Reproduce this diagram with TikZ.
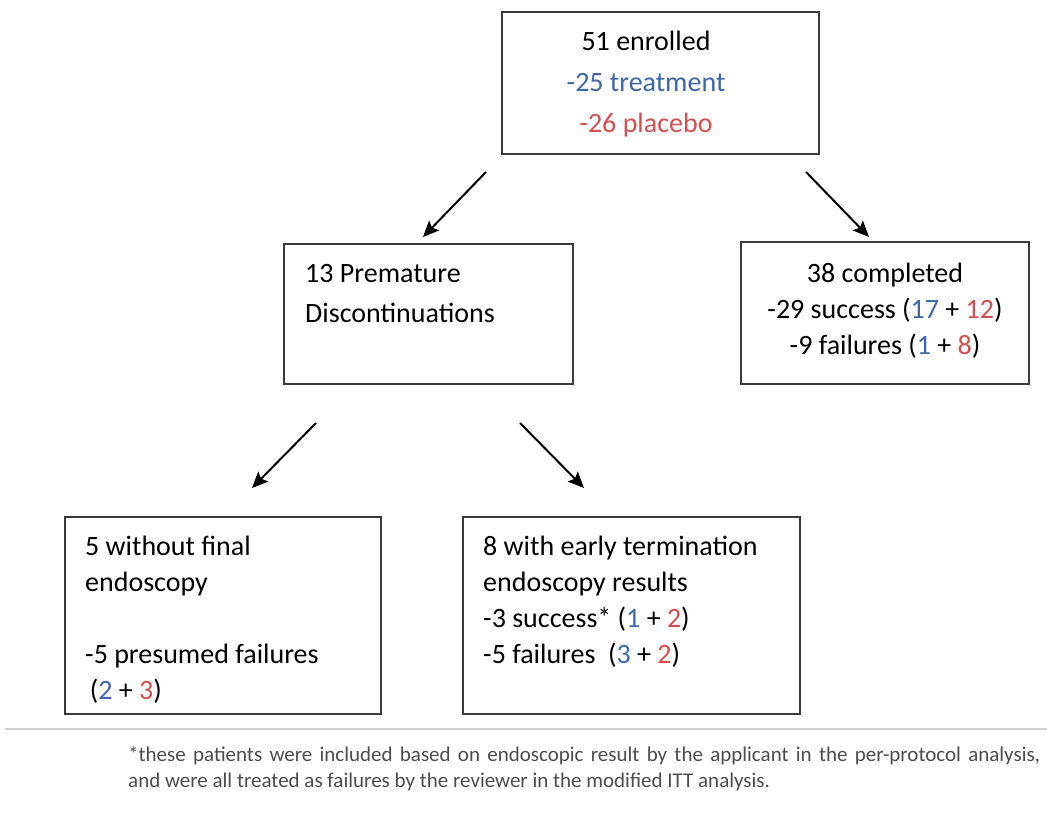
\documentclass[tikz,border=0pt]{standalone}
\usepackage{fontspec}
\setmainfont{Carlito}
\usetikzlibrary{arrows.meta}
\definecolor{tblue}{HTML}{3D67A8}
\definecolor{pred}{HTML}{D24F4F}
\definecolor{boxline}{HTML}{3A3A3A}
\newcommand{\B}[1]{\textcolor{tblue}{#1}}
\newcommand{\R}[1]{\textcolor{pred}{#1}}
\tikzset{
  box/.style={draw=boxline, line width=1.3pt, fill=white, inner sep=0pt},
  txt/.style={font=\fontsize{28}{36}\selectfont, inner sep=0pt},
  ftxt/.style={font=\fontsize{21}{28}\selectfont, text=black!70, inner sep=0pt, anchor=base west},
  arr/.style={-{Stealth[length=16pt,width=14pt,inset=3pt]}, line width=2pt, black}
}
\begin{document}
\begin{tikzpicture}[x=1pt,y=1pt]
\useasboundingbox (0,0) rectangle (1047,-821);
% boxes
\draw[box] (502,-12) rectangle (819,-154);
\draw[box] (284,-244) rectangle (573,-384);
\draw[box] (741,-242) rectangle (1029,-384);
\draw[box] (65,-517) rectangle (381,-714);
\draw[box] (463,-517) rectangle (800,-714);
% top
\node[txt, anchor=base] (t1) at (646,-51) {51 enrolled};
\node[txt, anchor=base, text=tblue] (t2) at (646,-92) {-25 treatment};
\node[txt, anchor=base, text=pred] (t3) at (646,-133) {-26 placebo};
% middle left
\node[txt, anchor=base west] (m1) at (305,-282) {13 Premature};
\node[txt, anchor=base west] (m2) at (305,-322) {Discontinuations};
% middle right
\node[txt, anchor=base] (r1) at (885,-282) {38 completed};
\node[txt, anchor=base] (r2) at (885,-318) {-29 success (\B{17} + \R{12})};
\node[txt, anchor=base] (r3) at (885,-354) {-9 failures (\B{1} + \R{8})};
% bottom left
\node[txt, anchor=base west] (l1) at (85,-555) {5 without final};
\node[txt, anchor=base west] (l2) at (85,-591) {endoscopy};
\node[txt, anchor=base west] (l3) at (85,-663) {-5 presumed failures};
\node[txt, anchor=base west] (l4) at (85,-699) {\,(\B{2} + \R{3})};
% bottom right
\node[txt, anchor=base west] (b1) at (483,-555) {8 with early termination};
\node[txt, anchor=base west] (b2) at (483,-591) {endoscopy results};
\node[txt, anchor=base west] (b3) at (483,-627) {-3 success* (\B{1} + \R{2})};
\node[txt, anchor=base west] (b4) at (483,-663) {-5 failures\ \ (\B{3} + \R{2})};
% arrows
\coordinate (a1s) at (486,-172); \coordinate (a1e) at (423,-237);
\coordinate (a2s) at (806,-172); \coordinate (a2e) at (869,-237);
\coordinate (a3s) at (316,-423); \coordinate (a3e) at (252,-488);
\coordinate (a4s) at (520,-423); \coordinate (a4e) at (584,-488);
\draw[arr] (a1s) -- (a1e);
\draw[arr] (a2s) -- (a2e);
\draw[arr] (a3s) -- (a3e);
\draw[arr] (a4s) -- (a4e);
% separator
\coordinate (s1) at (5,-729); \coordinate (s2) at (1047,-729);
\draw[line width=1.5pt, black!18] (s1) -- (s2);
% footnote
\node[ftxt] (f1) at (128,-761) {\makebox[912pt][s]{*these patients were included based on endoscopic result by the applicant in the per-protocol analysis,}};
\node[ftxt] (f2) at (128,-787) {and were all treated as failures by the reviewer in the modified ITT analysis.};
\end{tikzpicture}
\end{document}
